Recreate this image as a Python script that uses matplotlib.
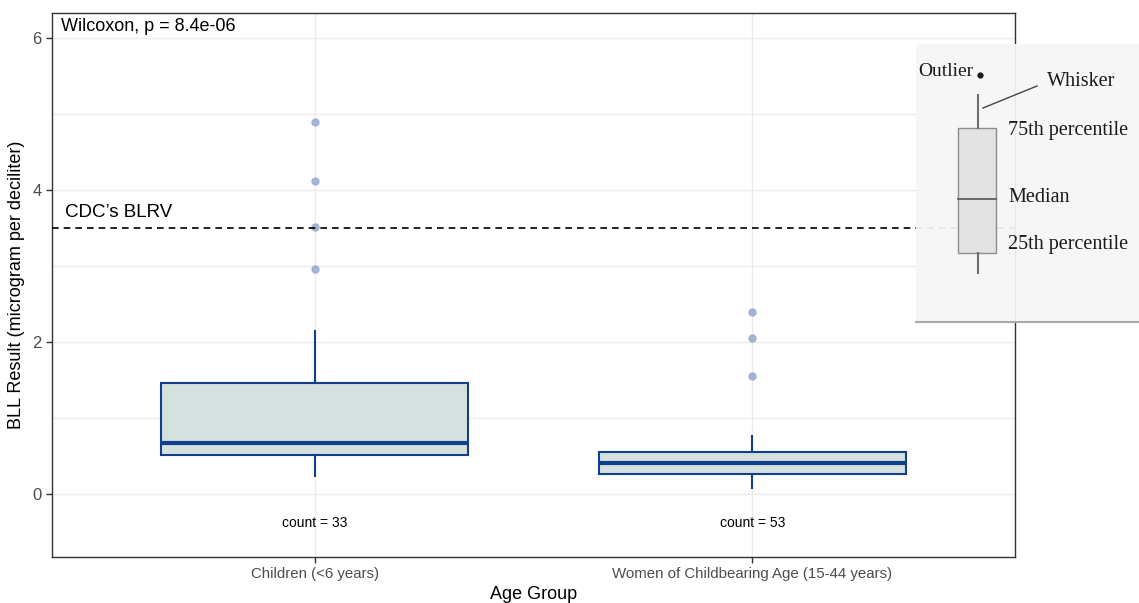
import matplotlib
matplotlib.use("Agg")
import matplotlib.pyplot as plt

plt.rcParams['font.family'] = ['Liberation Sans', 'DejaVu Sans']

# data
groups = ["Children (<6 years)", "Women of Childbearing Age (15-44 years)"]
counts = [33, 53]
q1 = [0.51, 0.26]
medians = [0.67, 0.41]
q3 = [1.46, 0.55]
whisker_lo = [0.24, 0.08]
whisker_hi = [2.14, 0.76]
outliers = [[2.96, 3.51, 4.12, 4.89], [1.55, 2.05, 2.40]]
blrv = 3.5
p_text = "Wilcoxon, p = 8.4e-06"

box_edge = "#123f8c"
box_fill = "#d5e1de"
pt_color = "#9aaed0"
grid_col = "#ebebeb"

fig = plt.figure(figsize=(11.39, 6.03), dpi=100)
ax = fig.add_axes([52 / 1139, 1 - 557 / 603, (1015 - 52) / 1139, (557 - 13) / 603])

stats = []
for i in range(len(groups)):
    stats.append(dict(med=medians[i], q1=q1[i], q3=q3[i], whislo=whisker_lo[i],
                      whishi=whisker_hi[i], fliers=outliers[i], label=groups[i]))

ax.bxp(stats, positions=[1, 2], widths=0.7, patch_artist=True, showcaps=False,
       boxprops=dict(facecolor=box_fill, edgecolor=box_edge, linewidth=1.5),
       medianprops=dict(color=box_edge, linewidth=3),
       whiskerprops=dict(color=box_edge, linewidth=1.5),
       flierprops=dict(marker='o', markerfacecolor=pt_color, markeredgecolor=pt_color,
                       markersize=5, alpha=0.9),
       zorder=3)

for i, n in enumerate(counts):
    ax.text(i + 1, -0.38, f"count = {n}", ha='center', va='center', fontsize=10, color='black')

ax.axhline(blrv, color='black', linestyle=(0, (4, 3)), linewidth=1.2, zorder=4)
ax.text(0.43, blrv + 0.2, "CDC\u2019s BLRV", fontsize=13.5, ha='left', va='center')
ax.text(0.42, 6.15, p_text, fontsize=13, ha='left', va='center')

ax.set_xlim(0.4, 2.6)
ax.set_ylim(-0.83, 6.33)
ax.set_yticks([0, 2, 4, 6])
ax.set_yticks([1, 3, 5], minor=True)
ax.set_xticks([1, 2])
ax.set_xticklabels(groups)
ax.grid(True, which='both', color=grid_col, linewidth=1, zorder=0)
ax.set_axisbelow(True)
ax.tick_params(axis='both', which='major', labelsize=10.8, labelcolor='#4d4d4d',
               length=4, color='#333333', width=1)
ax.tick_params(axis='y', which='major', labelsize=12)
ax.tick_params(axis='y', which='minor', length=0)
for s in ax.spines.values():
    s.set_color('#333333')
    s.set_linewidth(1)
ax.set_xlabel("Age Group", fontsize=13, labelpad=3)
ax.set_ylabel("BLL Result (microgram per deciliter)", fontsize=13, labelpad=5)

# inset legend image explaining the boxplot parts
ins = fig.add_axes([916 / 1139, 1 - 322 / 603, (1139 - 916) / 1139, (322 - 44) / 603])
ins.set_xlim(916, 1139)
ins.set_ylim(322, 44)
ins.patch.set_facecolor('#f6f6f6')
ins.patch.set_alpha(0.93)
ins.set_xticks([])
ins.set_yticks([])
for k, s in ins.spines.items():
    s.set_visible(k == 'bottom')
ins.spines['bottom'].set_color('#aaaaaa')
ins.spines['bottom'].set_linewidth(1.5)

gc = '#6e6e6e'
tc = '#1a1a1a'
ins.add_patch(plt.Rectangle((958, 128), 38, 125, facecolor='#e3e3e3', edgecolor='#8c8c8c', linewidth=1))
ins.plot([958, 996], [199, 199], color='#555555', linewidth=1.2)
ins.plot([978, 978], [95, 128], color=gc, linewidth=1.5)
ins.plot([978, 978], [253, 273], color=gc, linewidth=1.5)
ins.plot([983, 1037], [108, 86], color='#444444', linewidth=1)

serif = ['Liberation Serif', 'DejaVu Serif']
ins.text(918, 72, "Outlier", family=serif, fontsize=14, color=tc, va='center', ha='left')
ins.plot([980], [75], marker='o', markersize=3.5, color=tc)
ins.text(1047, 82, "Whisker", family=serif, fontsize=14.5, color=tc, va='center', ha='left')
ins.text(1008, 130, "75th percentile", family=serif, fontsize=14.5, color=tc, va='center', ha='left')
ins.text(1008, 197, "Median", family=serif, fontsize=14.5, color=tc, va='center', ha='left')
ins.text(1008, 245, "25th percentile", family=serif, fontsize=14.5, color=tc, va='center', ha='left')

fig.savefig("out.png", dpi=100)
